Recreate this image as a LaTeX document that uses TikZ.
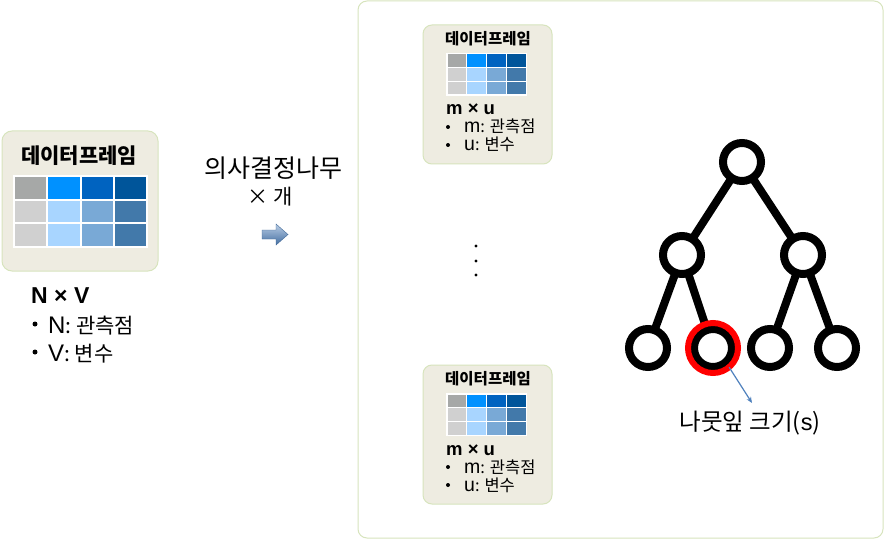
\documentclass[tikz,border=0pt]{standalone}
\usepackage{fontspec}
\setmainfont{Noto Sans CJK KR}
\newfontfamily\lat{Liberation Sans}
\usetikzlibrary{arrows.meta}
\definecolor{boxfill}{HTML}{EEECE1}
\definecolor{boxline}{HTML}{D7E4BD}
\definecolor{caa}{HTML}{A6A8A7}
\definecolor{cab}{HTML}{0091FF}
\definecolor{cac}{HTML}{0063C0}
\definecolor{cad}{HTML}{00559A}
\definecolor{cba}{HTML}{D0D0D0}
\definecolor{cbb}{HTML}{A8D5FF}
\definecolor{cbc}{HTML}{79A9D6}
\definecolor{cbd}{HTML}{4279AA}
\definecolor{arrowblue}{HTML}{4F81BD}
\newcommand\dftab[6]{% x0, y0, total w, total h, gap
  \fill[white] (#1,#2) rectangle ++(#3,#4);
  \pgfmathsetmacro\cw{(#3-#5)/4-#5}
  \pgfmathsetmacro\ch{(#4-#5)/3-#5}
  \foreach \i/\ca/\cb in {0/caa/cba,1/cab/cbb,2/cac/cbc,3/cad/cbd}{
    \fill[\ca] ({#1+#5+\i*(\cw+#5)},{#2+#5}) rectangle ++(\cw,\ch);
    \foreach \j in {1,2}{
      \fill[\cb] ({#1+#5+\i*(\cw+#5)},{#2+#5+\j*(\ch+#5)}) rectangle ++(\cw,\ch);
    }
  }
}
\tikzset{
  dfbox/.style={draw=boxline, fill=boxfill, line width=1pt, rounded corners=10pt},
  tn/.style={circle, draw=black, line width=8pt, fill=white, minimum size=38pt, inner sep=0pt},
  tedge/.style={line width=8pt, shorten <=-4pt, shorten >=-4pt},
  txt/.style={inner sep=0pt, anchor=base west},
  bul/.style={circle, fill=black, inner sep=0pt},
}
\begin{document}
\begin{tikzpicture}[x=1pt,y=-1pt]
\useasboundingbox (0,0) rectangle (885,540);
% left dataframe
\draw[dfbox] (2,131) rectangle (158,271);
\node[inner sep=0pt, font=\bfseries\fontsize{21}{24}\selectfont] (t0) at (79,156) {데이터프레임};
\dftab{13}{175}{135}{73}{2}{}
\node[txt, font=\lat\bfseries\fontsize{23}{26}\selectfont] (nv) at (31,303) {N × V};
\node[bul, minimum size=5pt] (lb1) at (35,324) {};
\node[txt, font=\fontsize{21}{24}\selectfont] (lt1) at (48,333) {{\lat\fontsize{24}{26}\selectfont N}: 관측점};
\node[bul, minimum size=5pt] (lb2) at (35,352) {};
\node[txt, font=\fontsize{21}{24}\selectfont] (lt2) at (48,361) {{\lat\fontsize{24}{26}\selectfont V}: 변수};
% middle
\node[inner sep=0pt, font=\fontsize{25}{28}\selectfont] (mt1) at (273,168) {의사결정나무};
\node[inner sep=0pt, font=\fontsize{21}{24}\selectfont] (mt2) at (270,197) {× 개};
\shade[top color=arrowblue!40, bottom color=arrowblue!85!black, draw=arrowblue!80!black, line width=0.4pt]
  (262,230) -- (276,230) -- (276,224) -- (288,234.5) -- (276,245) -- (276,239) -- (262,239) -- cycle;
% right big box
\draw[draw=boxline, fill=white, line width=1pt, rounded corners=9pt] (358,1) rectangle (883,538);
% small boxes
\foreach \dy/\nm in {0/a,340/b}{
  \draw[dfbox, rounded corners=9pt] (423,25+\dy) rectangle (552,164+\dy);
  \node[inner sep=0pt, font=\bfseries\fontsize{15.5}{18}\selectfont] (st\nm) at (488,39+\dy) {데이터프레임};
  \dftab{446}{53+\dy}{81}{43}{1.5}{}
  \node[txt, font=\lat\bfseries\fontsize{18.5}{21}\selectfont] (smu\nm) at (446,115+\dy) {m × u};
  \node[bul, minimum size=4pt] (sb1\nm) at (448,127+\dy) {};
  \node[txt, font=\fontsize{16.5}{18}\selectfont] (s1\nm) at (464,133+\dy) {{\lat\fontsize{19.5}{21}\selectfont m}: 관측점};
  \node[bul, minimum size=4pt] (sb2\nm) at (448,145+\dy) {};
  \node[txt, font=\fontsize{16.5}{18}\selectfont] (s2\nm) at (464,151+\dy) {{\lat\fontsize{19.5}{21}\selectfont u}: 변수};
}
% dots
\foreach \y/\k in {246/1,261/2,275/3}{
  \node[bul, minimum size=3.4pt] (dot\k) at (476,\y) {};
}
% tree
\node[tn] (r) at (742,162) {};
\node[tn] (m1) at (682,255) {};
\node[tn] (m2) at (803,255) {};
\node[tn] (l1) at (648,348) {};
\node[tn] (l2) at (713,348) {};
\node[tn] (l3) at (770,348) {};
\node[tn] (l4) at (837,348) {};
\draw[tedge] (r) -- (m1);
\draw[tedge] (r) -- (m2);
\draw[tedge] (m1) -- (l1);
\draw[tedge] (m1) -- (l2);
\draw[tedge] (m2) -- (l3);
\draw[tedge] (m2) -- (l4);
\node[circle, draw=red, line width=6pt, minimum size=50pt, inner sep=0pt, outer sep=0pt] (ring) at (l2) {};
\coordinate (atip) at (752,403);
\draw[arrowblue, line width=1.2pt, -{Stealth[length=6pt,width=5pt]}] (ring.-50) -- (atip);
\node[inner sep=0pt, font=\fontsize{23.5}{26}\selectfont] (leaf) at (750,423) {나뭇잎 크기({\lat s})};
\end{tikzpicture}
\end{document}
